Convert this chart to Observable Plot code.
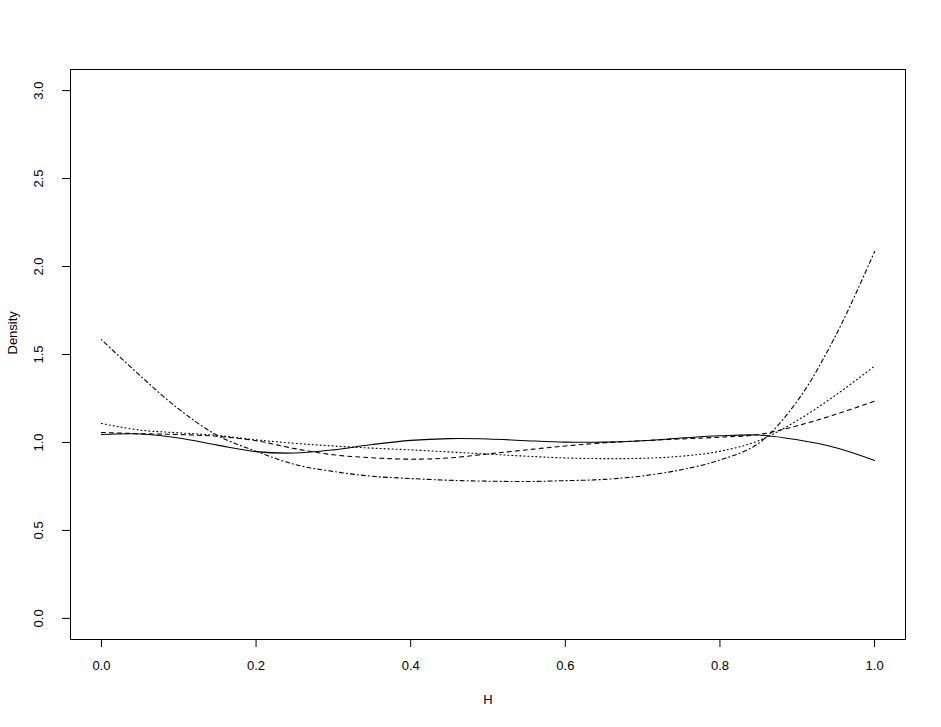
<!DOCTYPE html>
<html><head><meta charset="utf-8">
<script src="https://cdn.jsdelivr.net/npm/d3@7"></script>
<script src="https://cdn.jsdelivr.net/npm/@observablehq/plot@0.6"></script>
<style>body{margin:0;background:#fff} svg{display:block}</style>
</head><body><div id="chart"></div>
<script>
const H = [0,0.05,0.1,0.15,0.2,0.25,0.3,0.35,0.4,0.45,0.5,0.55,0.6,0.65,0.7,0.75,0.8,0.85,0.9,0.95,1.0];
const solid   = [1.045,1.048,1.025,0.985,0.948,0.94,0.958,0.988,1.012,1.022,1.02,1.01,1.002,1.002,1.01,1.025,1.038,1.042,1.015,0.97,0.898];
const dashed  = [1.057,1.05,1.045,1.035,1.01,0.965,0.93,0.913,0.905,0.912,0.935,0.958,0.98,0.998,1.01,1.02,1.03,1.045,1.095,1.16,1.235];
const dotted  = [1.108,1.07,1.055,1.04,1.015,0.995,0.98,0.968,0.958,0.946,0.934,0.922,0.912,0.908,0.91,0.922,0.95,1.01,1.125,1.27,1.434];
const dotdash = [1.585,1.38,1.19,1.04,0.95,0.875,0.835,0.808,0.795,0.785,0.78,0.778,0.783,0.79,0.81,0.845,0.9,0.995,1.235,1.61,2.085];
const xTicks = [0,0.2,0.4,0.6,0.8,1.0];
const yTicks = [0,0.5,1.0,1.5,2.0,2.5,3.0];
const xLabel = "H";
const yLabel = "Density";

const seriesDefs = [
  {values: solid, dash: null},
  {values: dashed, dash: "4,4"},
  {values: dotted, dash: "1,3"},
  {values: dotdash, dash: "1,3,4,3"}
];
const lineMarks = seriesDefs.map(s => Plot.line(H.map((h, i) => ({h, d: s.values[i]})), {
  x: "h", y: "d", stroke: "#000", strokeWidth: 1.1, curve: "catmull-rom",
  strokeDasharray: s.dash ?? undefined
}));

const chart = Plot.plot({
  width: 941, height: 727,
  marginLeft: 70, marginRight: 36, marginTop: 69, marginBottom: 88,
  style: {fontFamily: "'Liberation Sans', Arial, sans-serif", fontSize: "13px", background: "#fff", color: "#000"},
  x: {domain: [-0.04, 1.04]},
  y: {domain: [-0.12, 3.12]},
  marks: [
    Plot.frame({stroke: "#000"}),
    Plot.axisX(xTicks, {tickFormat: d3.format(".1f"), tickSize: 8, tickPadding: 13, label: null, fontSize: 13}),
    Plot.axisY(yTicks, {tickFormat: d3.format(".1f"), tickSize: 8, tickRotate: -90, tickPadding: 20, label: null, fontSize: 13}),
    Plot.text([xLabel], {frameAnchor: "bottom", dy: 64, text: d => d, fontSize: 13, fill: "#000"}),
    Plot.text([yLabel], {frameAnchor: "left", dx: -58, rotate: -90, text: d => d, fontSize: 13, fill: "#000"}),
    ...lineMarks
  ]
});
document.getElementById("chart").append(chart);
</script>
</body></html>
